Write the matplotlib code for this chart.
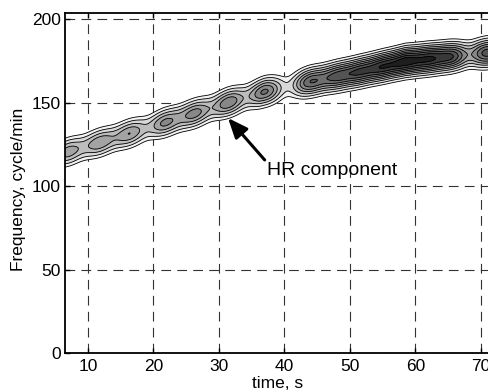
import numpy as np
import matplotlib
matplotlib.use("Agg")
import matplotlib.pyplot as plt

plt.rcParams['font.family'] = ['Liberation Sans', 'DejaVu Sans']
plt.rcParams['lines.scale_dashes'] = False

# ridge (HR component) centre line
ridge_t = [3.0, 7.0, 11.8, 16.4, 21.8, 26.3, 31.5, 37.0, 44.0, 51.0, 58.5, 65.5, 71.5, 78.0]
ridge_f = [116.0, 120.5, 126.0, 131.5, 138.0, 143.5, 150.0, 156.5, 162.5, 168.0, 174.5, 177.5, 180.0, 182.0]
# lobes of the time-frequency distribution along the ridge
lobe_t = [7.0, 11.8, 16.4, 21.8, 26.3, 31.5, 37.0, 44.0, 48.0, 51.5, 55.0, 58.5, 62.0, 65.5, 71.0, 76.0]
lobe_a = [0.30, 0.32, 0.33, 0.36, 0.38, 0.42, 0.46, 0.52, 0.54, 0.58, 0.66, 0.74, 0.68, 0.62, 0.60, 0.60]

xticks = [10, 20, 30, 40, 50, 60, 70]
yticks = [0, 50, 100, 150, 200]
levels = [0.05, 0.10, 0.17, 0.25, 0.34, 0.44, 0.55, 0.67, 0.80, 2.0]

t = np.linspace(4, 80, 800)
f = np.linspace(95, 205, 600)
T, F = np.meshgrid(t, f)
fr = np.interp(T, ridge_t, ridge_f)
A = np.zeros_like(T)
for lt, la in zip(lobe_t, lobe_a):
    A += la * np.exp(-(T - lt) ** 2 / (2 * 1.7 ** 2))
Z = A * np.exp(-(F - fr) ** 2 / (2 * 4.6 ** 2))

fig = plt.figure(figsize=(4.88, 3.92), dpi=100)
ax = fig.add_axes([65 / 488, 39 / 392, 455 / 488, 340 / 392])

ncol = len(levels) - 1
colors = [str(0.95 - 0.83 * i / (ncol - 1)) for i in range(ncol)]
ax.contourf(T, F, Z, levels=levels, colors=colors, zorder=1)
ax.contour(T, F, Z, levels=levels[:-1], colors='k', linewidths=0.6, zorder=2)

ax.set_xlim(6.5, 76)
ax.set_ylim(0, 203.6)
ax.set_xticks(xticks)
ax.set_yticks(yticks)
ax.set_axisbelow(True)
ax.grid(True, color='#333333', linewidth=0.8, linestyle=(0, (7, 4.5)))
ax.tick_params(direction='in', length=3.6, width=1, top=True, right=True,
               labelsize=12.5, pad=3)
ax.tick_params(axis='x', pad=4)
for s in ax.spines.values():
    s.set_linewidth(1.3)

ax.set_xlabel('time, s', fontsize=12.5)
ax.xaxis.set_label_coords(0.468, -0.068)
ax.set_ylabel('Frequency, cycle/min', fontsize=12.5)
ax.yaxis.set_label_coords(-0.085, 0.482)

ax.annotate('', xy=(31.4, 140.7), xytext=(37.0, 115.6),
            arrowprops=dict(arrowstyle='-|>,head_length=0.6,head_width=0.25',
                            lw=2.2, color='k', mutation_scale=20,
                            shrinkA=0, shrinkB=0), zorder=5)
ax.text(37.4, 109.5, 'HR component', fontsize=14, ha='left', va='center', zorder=5)

fig.savefig('out.png', dpi=100)
